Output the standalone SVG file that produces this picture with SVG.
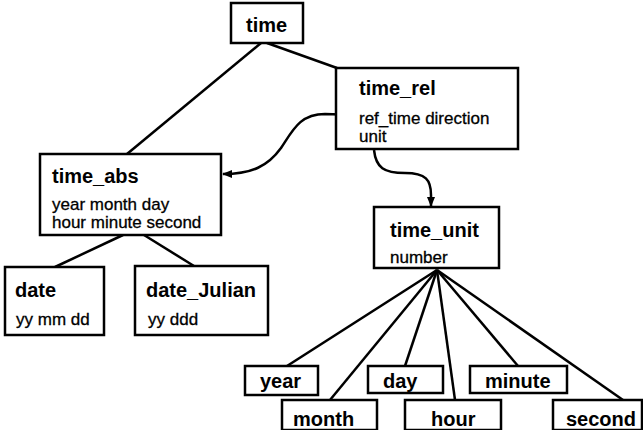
<svg xmlns="http://www.w3.org/2000/svg" width="643" height="430" viewBox="0 0 643 430">
<style>
rect{fill:#fff;stroke:#000;stroke-width:2.5}
.t{font-family:"Liberation Sans",Arial,sans-serif;font-weight:bold;font-size:20px;fill:#000}
.a{font-family:"Liberation Sans",Arial,sans-serif;font-size:17px;fill:#000;stroke:#000;stroke-width:0.3}
#connectors line,#connectors path{stroke:#000;stroke-width:2.5;fill:none}
</style>
<defs>
<marker id="arr" viewBox="0 0 10 8" refX="9" refY="4" markerWidth="10" markerHeight="8" markerUnits="userSpaceOnUse" orient="auto">
<path d="M0,0 L10,4 L0,8 Z" fill="#000"/>
</marker>
</defs>
<g id="connectors">
<line x1="261" y1="43" x2="127" y2="154"/>
<line x1="267" y1="43" x2="337" y2="68"/>
<line x1="123" y1="235" x2="55" y2="267"/>
<line x1="144" y1="235" x2="194" y2="266"/>
<line x1="437" y1="270" x2="287" y2="366"/>
<line x1="437" y1="270" x2="330" y2="400"/>
<line x1="437" y1="270" x2="405" y2="366"/>
<line x1="437" y1="270" x2="455" y2="400"/>
<line x1="437" y1="270" x2="518" y2="366"/>
<line x1="437" y1="270" x2="623" y2="400"/>
<path d="M355,115 L325,114 C300,114 293,130 281,148 C268,166 252,174 223,174" marker-end="url(#arr)"/>
<path d="M374,150 C376,168 384,173 405,173 C426,173 431,180 431,195 L431,206" marker-end="url(#arr)"/>
</g>
<g id="time">
<rect x="231" y="3" width="72" height="40"/>
<text class="t" x="246" y="32">time</text>
</g>
<g id="time_rel">
<rect x="336" y="68" width="182" height="81"/>
<text class="t" x="359" y="95">time_rel</text>
<text class="a" x="359" y="124">ref_time direction</text>
<text class="a" x="359" y="142">unit</text>
</g>
<g id="time_abs">
<rect x="40" y="154" width="181" height="81"/>
<text class="t" x="52" y="183">time_abs</text>
<text class="a" x="52" y="210">year month day</text>
<text class="a" x="52" y="228">hour minute second</text>
</g>
<g id="date">
<rect x="5" y="267" width="99" height="68"/>
<text class="t" x="15" y="297">date</text>
<text class="a" x="16" y="325">yy mm dd</text>
</g>
<g id="date_Julian">
<rect x="135" y="266" width="133" height="69"/>
<text class="t" x="146" y="297">date_Julian</text>
<text class="a" x="148" y="325">yy ddd</text>
</g>
<g id="time_unit">
<rect x="374" y="207" width="125" height="61"/>
<text class="t" x="390" y="237">time_unit</text>
<text class="a" x="390" y="263">number</text>
</g>
<g id="year">
<rect x="245" y="366" width="73" height="29"/>
<text class="t" x="260" y="388">year</text>
</g>
<g id="month">
<rect x="282" y="400" width="95" height="30"/>
<text class="t" x="293" y="426">month</text>
</g>
<g id="day">
<rect x="368" y="366" width="75" height="27"/>
<text class="t" x="383" y="388">day</text>
</g>
<g id="hour">
<rect x="405" y="400" width="96" height="30"/>
<text class="t" x="431" y="426">hour</text>
</g>
<g id="minute">
<rect x="470" y="366" width="97" height="27"/>
<text class="t" x="485" y="388">minute</text>
</g>
<g id="second">
<rect x="553" y="400" width="89" height="30"/>
<text class="t" x="566" y="426">second</text>
</g>
</svg>
